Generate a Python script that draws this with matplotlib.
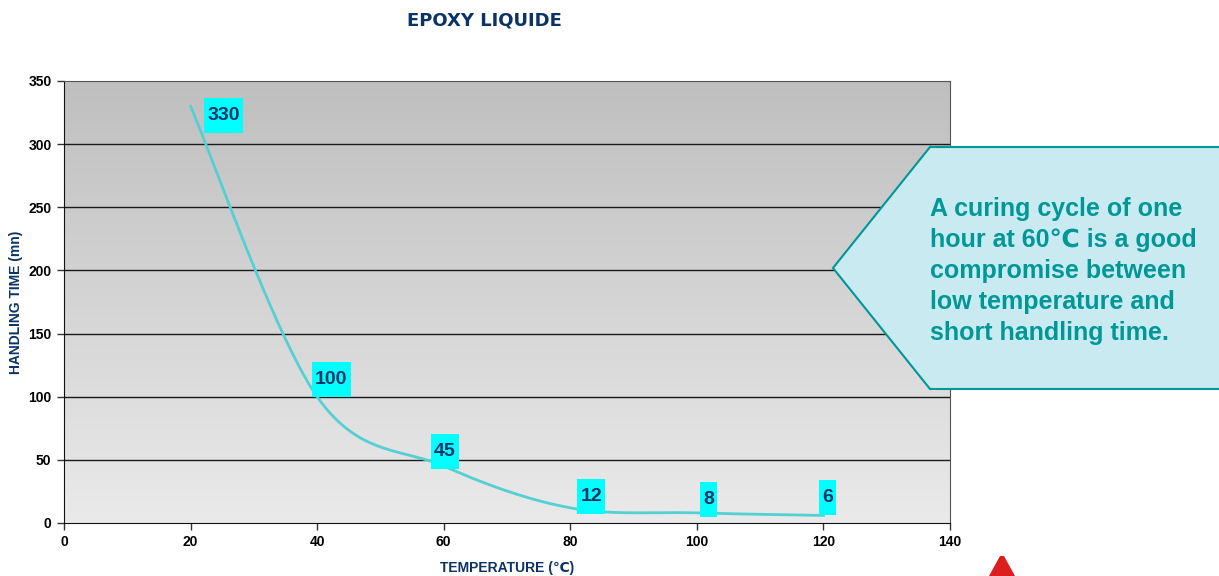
import numpy as np
import matplotlib
matplotlib.use('Agg')
import matplotlib.pyplot as plt
from matplotlib.patches import Polygon, Rectangle

plt.rcParams['font.family'] = ['Liberation Sans', 'DejaVu Sans']

# data
temperature = [20, 40, 60, 80, 100, 120]
handling_time = [330, 100, 45, 12, 8, 6]
point_labels = ['330', '100', '45', '12', '8', '6']

x_ticks = [0, 20, 40, 60, 80, 100, 120, 140]
y_ticks = [0, 50, 100, 150, 200, 250, 300, 350]

title = 'EPOXY LIQUIDE'
x_label = 'TEMPERATURE (\u2103)'
y_label = 'HANDLING TIME (mn)'
note = ('A curing cycle of one\nhour at 60\u2103 is a good\ncompromise between\n'
        'low temperature and\nshort handling time.')

navy = '#0B3366'
teal = '#009797'
curve_col = '#55D0D2'

W, H = 1219, 576
fig = plt.figure(figsize=(W / 100, H / 100), dpi=100)
ax = fig.add_axes([64 / W, 53 / H, 886 / W, 442 / H])
ax.set_xlim(0, 140)
ax.set_ylim(0, 350)

# grey gradient background, darker at the top
grad = np.linspace(0, 1, 256).reshape(-1, 1)
ax.imshow(grad, extent=[0, 140, 0, 350], aspect='auto', origin='lower',
          cmap=matplotlib.colors.LinearSegmentedColormap.from_list('g', ['#EAEAEA', '#BFBFBF']),
          zorder=0)

for yv in y_ticks[1:-1]:
    ax.axhline(yv, color='#1a1a1a', lw=1.0, zorder=1)


# smoothed line (Excel-like Catmull-Rom in pixel space)
def smooth(xs, ys, n=40):
    pts = ax.transData.transform(np.column_stack([xs, ys]))
    p = np.vstack([pts[0], pts, pts[-1]])
    out = []
    t = np.linspace(0, 1, n)[:, None]
    for i in range(1, len(p) - 2):
        p0, p1, p2, p3 = p[i - 1], p[i], p[i + 1], p[i + 2]
        c1 = p1 + (p2 - p0) / 6
        c2 = p2 - (p3 - p1) / 6
        seg = ((1 - t) ** 3) * p1 + 3 * ((1 - t) ** 2) * t * c1 + 3 * (1 - t) * t ** 2 * c2 + t ** 3 * p2
        out.append(seg)
    out = np.vstack(out)
    return ax.transData.inverted().transform(out)


curve = smooth(temperature, handling_time)
ax.plot(curve[:, 0], curve[:, 1], color=curve_col, lw=2.0, zorder=3)

# data labels: cyan boxes placed up/right of each point (offsets in pixels)
offsets = [(33, -9), (14, 17), (1, 15), (21, 11), (12, 13), (4, 18)]
for xv, yv, lab, off in zip(temperature, handling_time, point_labels, offsets):
    px, py = ax.transData.transform((xv, yv))
    cx, cy = px + off[0], py + off[1]
    bw, bh = 11 * len(lab) + 6, 35
    fig.patches.append(Rectangle((cx - bw / 2, cy - bh / 2), bw, bh, transform=None,
                                 fc='#00FFFF', ec='none', zorder=5))
    fig.text(cx / W, cy / H, lab, ha='center', va='center', fontsize=14,
             fontweight='bold', color=navy, zorder=6)

ax.set_xticks(x_ticks)
ax.set_yticks(y_ticks)
ax.tick_params(labelsize=10, length=5, width=1, color='#333333', pad=4)
for lab in ax.get_xticklabels() + ax.get_yticklabels():
    lab.set_fontweight('bold')
for s in ['left', 'bottom']:
    ax.spines[s].set_color('#111111')
for s in ['top', 'right']:
    ax.spines[s].set_color('#555555')

ax.set_xlabel(x_label, fontsize=10, fontweight='bold', color=navy, labelpad=8)
ax.set_ylabel(y_label, fontsize=10, fontweight='bold', color=navy, labelpad=4)

fig.text(484 / W, 1 - 20 / H, title, ha='center', va='center',
         fontsize=13, fontweight='bold', color=navy, family='DejaVu Sans')

# callout arrow box
verts = [(833, 268), (930, 147), (1225, 147), (1225, 389), (930, 389)]
verts = [(vx / W, 1 - vy / H) for vx, vy in verts]
fig.patches.append(Polygon(verts, closed=True, transform=fig.transFigure,
                           fc='#C8EAF0', ec=teal, lw=1.5, zorder=10))
fig.text(930 / W, 1 - 271 / H, note, ha='left', va='center', fontsize=18,
         fontweight='bold', color=teal, linespacing=1.38, zorder=11)

# small red logo
logo = [(989, 576), (1000, 556), (1004, 556), (1015, 576)]
logo = [(vx / W, 1 - vy / H) for vx, vy in logo]
fig.patches.append(Polygon(logo, closed=True, transform=fig.transFigure,
                           fc='#DD1E1E', ec='none'))

fig.savefig('out.png', dpi=100)
